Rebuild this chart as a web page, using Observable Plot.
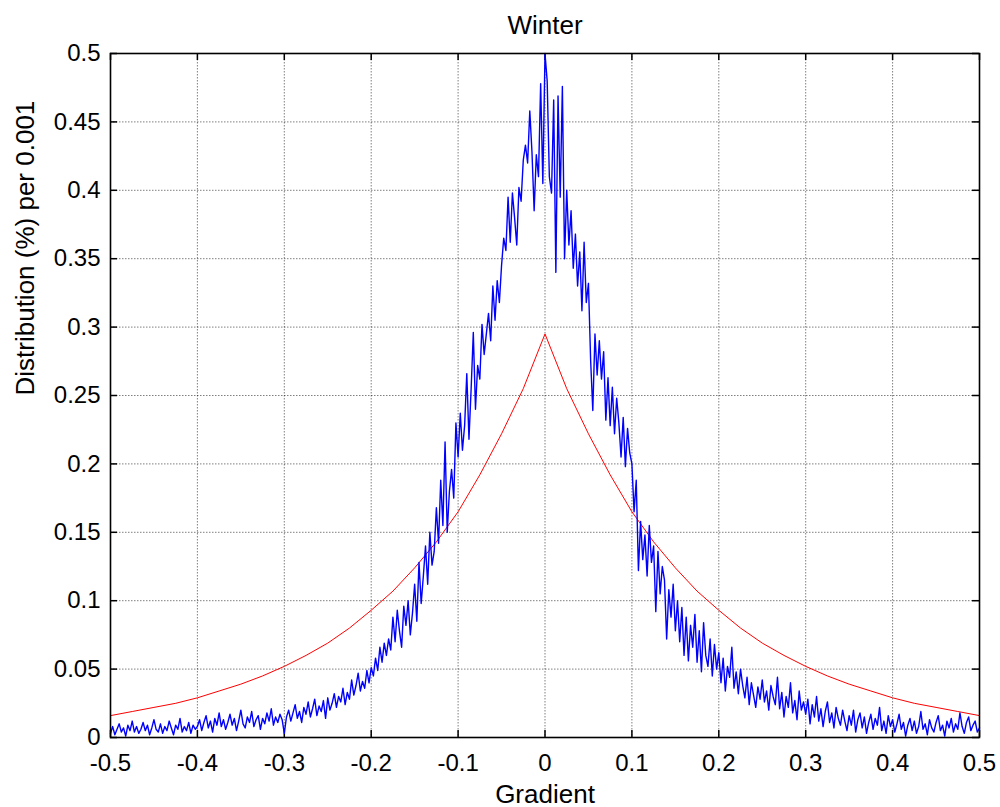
<!DOCTYPE html>
<html>
<head>
<meta charset="utf-8">
<script src="https://cdn.jsdelivr.net/npm/d3@7"></script>
<script src="https://cdn.jsdelivr.net/npm/@observablehq/plot@0.6"></script>
<style>
  html, body { margin: 0; padding: 0; background: #fff; }
  #chart { width: 1000px; height: 807px; }
</style>
</head>
<body>
<div id="chart"></div>
<script>
// ---- data ----
const titleText = "Winter";
const xLabel = "Gradient";
const yLabel = "Distribution (%) per 0.001";

const xTicks = [-0.5, -0.4, -0.3, -0.2, -0.1, 0, 0.1, 0.2, 0.3, 0.4, 0.5];
const yTicks = [0, 0.05, 0.1, 0.15, 0.2, 0.25, 0.3, 0.35, 0.4, 0.45, 0.5];

// empirical distribution (blue), sampled every 0.0025 from -0.5 to 0.5
const blueStart = -0.5, blueStep = 0.0025;
const blueValues = [
  // -0.5 .. -0.4025
  0.003, 0.008, 0.002, 0.006, 0.010, 0.004, 0.007, 0.001, 0.009, 0.005,
  0.012, 0.004, 0.008, 0.003, 0.006, 0.011, 0.005, 0.009, 0.002, 0.007,
  0.013, 0.006, 0.004, 0.010, 0.003, 0.008, 0.005, 0.012, 0.007, 0.002,
  0.009, 0.006, 0.014, 0.004, 0.008, 0.005, 0.011, 0.003, 0.009, 0.006,
  // -0.4 .. -0.3025
  0.008, 0.013, 0.005, 0.011, 0.016, 0.007, 0.012, 0.004, 0.014, 0.009,
  0.018, 0.008, 0.013, 0.006, 0.011, 0.017, 0.009, 0.014, 0.005, 0.012,
  0.020, 0.010, 0.007, 0.015, 0.011, 0.019, 0.008, 0.013, 0.016, 0.006,
  0.014, 0.010, 0.018, 0.012, 0.021, 0.009, 0.015, 0.011, 0.017, 0.013,
  // -0.3 .. -0.2025
  0.003, 0.015, 0.020, 0.012, 0.018, 0.024, 0.014, 0.019, 0.011, 0.022,
  0.017, 0.026, 0.015, 0.021, 0.028, 0.016, 0.023, 0.019, 0.027, 0.014,
  0.029, 0.020, 0.025, 0.032, 0.022, 0.030, 0.026, 0.036, 0.024, 0.033,
  0.028, 0.042, 0.031, 0.038, 0.047, 0.034, 0.041, 0.036, 0.049, 0.040,
  // -0.2 .. -0.1025
  0.051, 0.045, 0.058, 0.049, 0.066, 0.055, 0.069, 0.060, 0.072, 0.064,
  0.088, 0.070, 0.093, 0.078, 0.066, 0.096, 0.082, 0.100, 0.075, 0.091,
  0.112, 0.085, 0.128, 0.098, 0.118, 0.140, 0.112, 0.150, 0.126, 0.136,
  0.168, 0.142, 0.188, 0.155, 0.216, 0.150, 0.180, 0.196, 0.175, 0.230,
  // -0.1 .. -0.0025
  0.205, 0.237, 0.210, 0.228, 0.266, 0.218, 0.255, 0.296, 0.240, 0.272,
  0.262, 0.302, 0.280, 0.295, 0.310, 0.290, 0.330, 0.305, 0.334, 0.318,
  0.345, 0.365, 0.356, 0.395, 0.362, 0.398, 0.380, 0.360, 0.402, 0.392,
  0.422, 0.433, 0.420, 0.458, 0.428, 0.385, 0.426, 0.410, 0.478, 0.405,
  // 0 .. 0.0975
  0.500, 0.480, 0.410, 0.398, 0.466, 0.340, 0.469, 0.395, 0.476, 0.350,
  0.400, 0.360, 0.385, 0.343, 0.368, 0.330, 0.355, 0.312, 0.362, 0.318,
  0.332, 0.276, 0.239, 0.295, 0.265, 0.290, 0.262, 0.282, 0.232, 0.263,
  0.228, 0.256, 0.222, 0.248, 0.230, 0.205, 0.234, 0.198, 0.226, 0.208,
  // 0.1 .. 0.1975
  0.200, 0.165, 0.188, 0.122, 0.158, 0.130, 0.148, 0.118, 0.155, 0.128,
  0.140, 0.092, 0.136, 0.105, 0.125, 0.115, 0.072, 0.108, 0.088, 0.112,
  0.078, 0.100, 0.070, 0.095, 0.060, 0.088, 0.056, 0.082, 0.066, 0.090,
  0.055, 0.078, 0.048, 0.084, 0.060, 0.052, 0.072, 0.045, 0.068, 0.050,
  // 0.2 .. 0.2975
  0.062, 0.040, 0.058, 0.034, 0.052, 0.044, 0.066, 0.036, 0.048, 0.032,
  0.050, 0.038, 0.029, 0.044, 0.024, 0.040, 0.031, 0.022, 0.037, 0.028,
  0.042, 0.026, 0.034, 0.020, 0.038, 0.030, 0.024, 0.044, 0.021, 0.033,
  0.015, 0.030, 0.022, 0.040, 0.018, 0.027, 0.013, 0.034, 0.020, 0.026,
  // 0.3 .. 0.3975
  0.017, 0.028, 0.010, 0.024, 0.015, 0.030, 0.012, 0.021, 0.008, 0.019,
  0.026, 0.011, 0.018, 0.007, 0.022, 0.014, 0.009, 0.020, 0.012, 0.005,
  0.016, 0.009, 0.020, 0.004, 0.013, 0.018, 0.007, 0.015, 0.003, 0.011,
  0.017, 0.006, 0.014, 0.009, 0.022, 0.005, 0.012, 0.003, 0.016, 0.008,
  // 0.4 .. 0.5
  0.013, 0.004, 0.010, 0.017, 0.006, 0.011, 0.001, 0.009, 0.014, 0.005,
  0.012, 0.003, 0.008, 0.019, 0.006, 0.010, 0.002, 0.013, 0.007, 0.004,
  0.011, 0.016, 0.005, 0.009, 0.001, 0.012, 0.007, 0.014, 0.004, 0.010,
  0.006, 0.018, 0.008, 0.003, 0.011, 0.015, 0.005, 0.009, 0.012, 0.004,
  0.007
];

// fitted curve (red), every 0.025 from -0.5 to 0.5
const redStart = -0.5, redStep = 0.025;
const redValues = [
  0.016, 0.019, 0.022, 0.025, 0.029, 0.034, 0.039, 0.045, 0.052, 0.060,
  0.069, 0.080, 0.093, 0.107, 0.124, 0.143, 0.165, 0.192, 0.222, 0.255,
  0.295,
  0.255, 0.222, 0.192, 0.165, 0.143, 0.124, 0.107, 0.093, 0.080, 0.069,
  0.060, 0.052, 0.045, 0.039, 0.034, 0.029, 0.025, 0.022, 0.019, 0.016
];

// ---- build tables ----
const blue = blueValues.map((v, i) => ({x: +(blueStart + i * blueStep).toFixed(4), y: v}));
const red = redValues.map((v, i) => ({x: +(redStart + i * redStep).toFixed(4), y: v}));

const W = 1000, H = 807;
const mL = 110, mR = 21, mT = 53, mB = 70;
const innerW = W - mL - mR, innerH = H - mT - mB;
const tickLen = 7;
const fmt = d => String(d);
const font = "'Liberation Sans', Arial, Helvetica, sans-serif";

const chart = Plot.plot({
  width: W,
  height: H,
  marginLeft: mL,
  marginRight: mR,
  marginTop: mT,
  marginBottom: mB,
  style: {fontFamily: font, fontSize: "24px", color: "#000", background: "#fff", overflow: "visible"},
  x: {domain: [-0.5, 0.5]},
  y: {domain: [0, 0.5]},
  marks: [
    Plot.gridX(xTicks, {stroke: "#000", strokeOpacity: 0.5, strokeDasharray: "1.5,1.5", strokeWidth: 1}),
    Plot.gridY(yTicks, {stroke: "#000", strokeOpacity: 0.5, strokeDasharray: "1.5,1.5", strokeWidth: 1}),
    // inward ticks on all four sides
    Plot.ruleX(xTicks, {x: d => d, insetTop: innerH - tickLen, stroke: "#000", strokeWidth: 1.5}),
    Plot.ruleX(xTicks, {x: d => d, insetBottom: innerH - tickLen, stroke: "#000", strokeWidth: 1.5}),
    Plot.ruleY(yTicks, {y: d => d, insetRight: innerW - tickLen, stroke: "#000", strokeWidth: 1.5}),
    Plot.ruleY(yTicks, {y: d => d, insetLeft: innerW - tickLen, stroke: "#000", strokeWidth: 1.5}),
    Plot.line(red, {x: "x", y: "y", stroke: "#ff0000", strokeWidth: 1}),
    Plot.line(blue, {x: "x", y: "y", stroke: "#0000ff", strokeWidth: 1.4}),
    Plot.frame({stroke: "#000", strokeWidth: 1.6}),
    Plot.axisX(xTicks, {anchor: "bottom", tickSize: 0, tickPadding: 16, tickFormat: fmt, fontSize: 24, label: null}),
    Plot.axisY(yTicks, {anchor: "left", tickSize: 0, tickPadding: 10, tickFormat: fmt, fontSize: 24, label: null}),
    Plot.text([titleText], {frameAnchor: "top", lineAnchor: "middle", dy: -28, fontSize: 26, text: d => d}),
    Plot.text([xLabel], {frameAnchor: "bottom", lineAnchor: "middle", dy: 57, fontSize: 26, text: d => d}),
    Plot.text([yLabel], {frameAnchor: "left", lineAnchor: "middle", dx: -85, rotate: -90, fontSize: 26, text: d => d})
  ]
});
document.getElementById("chart").appendChild(chart);
</script>
</body>
</html>
